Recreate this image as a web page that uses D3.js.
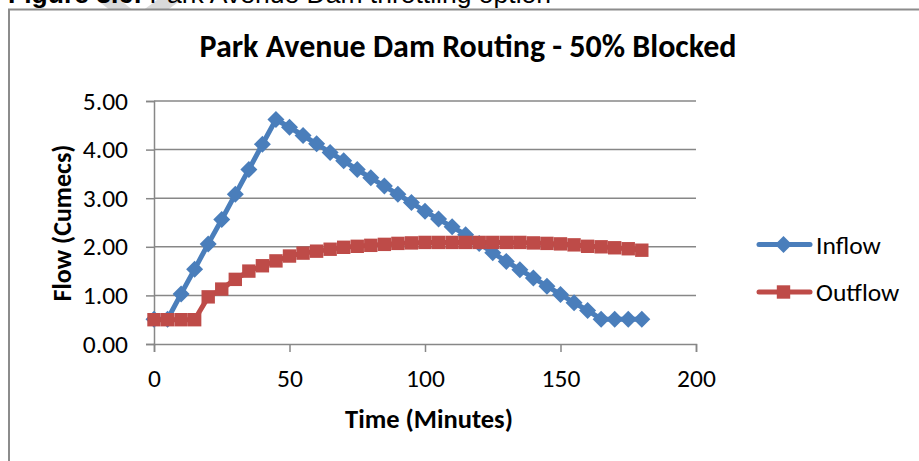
<!DOCTYPE html>
<html>
<head>
<meta charset="utf-8">
<script src="https://cdn.jsdelivr.net/npm/d3@7"></script>
<style>
  body { margin: 0; background: #fff; }
  svg { display: block; }
</style>
</head>
<body>
<div id="chart"></div>
<script>
// Donnees (pas de 5 minutes)
const times = [0,5,10,15,20,25,30,35,40,45,50,55,60,65,70,75,80,85,90,95,100,105,110,115,120,125,130,135,140,145,150,155,160,165,170,175,180];
const inflow = [0.51,0.51,1.03,1.54,2.06,2.56,3.08,3.59,4.11,4.62,4.46,4.29,4.12,3.94,3.77,3.59,3.42,3.25,3.08,2.91,2.73,2.57,2.41,2.25,2.07,1.88,1.70,1.53,1.36,1.19,1.02,0.85,0.69,0.51,0.51,0.51,0.51];
const outflow = [0.50,0.50,0.50,0.50,0.97,1.13,1.33,1.50,1.61,1.71,1.81,1.87,1.91,1.95,1.99,2.01,2.03,2.05,2.07,2.08,2.09,2.09,2.09,2.09,2.09,2.09,2.09,2.09,2.08,2.07,2.06,2.04,2.01,2.00,1.98,1.96,1.93];
const seriesNames = ["Inflow", "Outflow"];
const xTicks = [0, 50, 100, 150, 200];
const yTicks = [0, 1, 2, 3, 4, 5];

const W = 919, H = 461;
const margin = {top: 101, right: 223, bottom: 117, left: 154};
const width = W - margin.left - margin.right;   // 542
const height = H - margin.top - margin.bottom;  // 243
const blue = "#4a7ebb", red = "#be4b48", grid = "#878787";
const font = "Carlito, Calibri, Lato, sans-serif";

const svg = d3.select("#chart").append("svg")
  .attr("width", W).attr("height", H);

// filigrane gris derriere la legende de figure (coupe par le cadre)
svg.append("clipPath").attr("id", "clipTop")
  .append("rect").attr("x", 0).attr("y", 0).attr("width", W).attr("height", 9);
svg.append("polygon")
  .attr("clip-path", "url(#clipTop)")
  .attr("points", "97,0 120,0 138,14 157,0 181,0 138,32")
  .attr("fill", "#d9d9d9");

// legende de figure (coupee en haut)
const cap = svg.append("text")
  .attr("x", 8).attr("y", 3)
  .style("font-family", "Arial, 'Liberation Sans', sans-serif")
  .style("font-size", "26.5px").attr("fill", "#000");
cap.append("tspan").style("font-weight", "bold").text("Figure 3.6:");
cap.append("tspan").text(" Park Avenue Dam throttling option");

// cadre du graphique
svg.append("path")
  .attr("d", `M9,${H} V9.5 H${W}`)
  .attr("fill", "none").attr("stroke", "#8c8c8c").attr("stroke-width", 2);

const g = svg.append("g")
  .attr("transform", `translate(${margin.left},${margin.top})`);

const x = d3.scaleLinear().domain([0, 200]).range([0, width]);
const y = d3.scaleLinear().domain([0, 5]).range([height, 0]);

// grille horizontale
g.append("g").selectAll("line")
  .data(yTicks.filter(d => d > 0))
  .join("line")
  .attr("x1", 0).attr("x2", width)
  .attr("y1", d => y(d)).attr("y2", d => y(d))
  .attr("stroke", grid).attr("stroke-width", 1.5);

// axe Y
const yAxis = g.append("g")
  .call(d3.axisLeft(y).tickValues(yTicks).tickFormat(d3.format(".2f")).tickSize(8).tickPadding(18));
yAxis.select(".domain").attr("stroke", grid).attr("stroke-width", 1.5);
yAxis.selectAll(".tick line").attr("stroke", grid).attr("stroke-width", 1.5);
yAxis.selectAll("text").style("font-family", font).style("font-size", "25.5px").attr("fill", "#000");

// axe X
const xAxis = g.append("g")
  .attr("transform", `translate(0,${height})`)
  .call(d3.axisBottom(x).tickValues(xTicks).tickSize(8).tickPadding(17));
xAxis.select(".domain").attr("stroke", grid).attr("stroke-width", 1.5);
xAxis.selectAll(".tick line").attr("stroke", grid).attr("stroke-width", 1.5);
xAxis.selectAll("text").style("font-family", font).style("font-size", "25.5px").attr("fill", "#000");

// titres
svg.append("text")
  .attr("x", 468).attr("y", 57).attr("text-anchor", "middle")
  .style("font-family", font).style("font-weight", "bold").style("font-size", "32px")
  .text("Park Avenue Dam Routing - 50% Blocked");

svg.append("text")
  .attr("x", 429).attr("y", 428).attr("text-anchor", "middle")
  .style("font-family", font).style("font-weight", "bold").style("font-size", "26.5px")
  .text("Time (Minutes)");

svg.append("text")
  .attr("transform", "translate(71,223) rotate(-90)")
  .attr("text-anchor", "middle")
  .style("font-family", font).style("font-weight", "bold").style("font-size", "26px")
  .text("Flow (Cumecs)");

// series
const line = d3.line().x(d => x(d[0])).y(d => y(d[1]));
const inData = times.map((t, i) => [t, inflow[i]]);
const outData = times.map((t, i) => [t, outflow[i]]);

const diamond = s => `M0,${-s} L${s},0 L0,${s} L${-s},0 Z`;
const square = s => `M${-s},${-s} H${s} V${s} H${-s} Z`;

g.append("path").datum(inData).attr("d", line)
  .attr("fill", "none").attr("stroke", blue).attr("stroke-width", 5).attr("stroke-linejoin", "round");
g.append("g").selectAll("path").data(inData).join("path")
  .attr("transform", d => `translate(${x(d[0])},${y(d[1])})`)
  .attr("d", diamond(8.5)).attr("fill", blue);

g.append("path").datum(outData).attr("d", line)
  .attr("fill", "none").attr("stroke", red).attr("stroke-width", 5).attr("stroke-linejoin", "round");
g.append("g").selectAll("path").data(outData).join("path")
  .attr("transform", d => `translate(${x(d[0])},${y(d[1])})`)
  .attr("d", square(6.7)).attr("fill", red);

// legende
const leg = svg.append("g");
seriesNames.forEach((name, i) => {
  const ly = 244.5 + i * 47.5;
  const c = i === 0 ? blue : red;
  leg.append("line").attr("x1", 759).attr("x2", 810).attr("y1", ly).attr("y2", ly)
    .attr("stroke", c).attr("stroke-width", 5).attr("stroke-linecap", "round");
  leg.append("path").attr("transform", `translate(783.5,${ly})`)
    .attr("d", i === 0 ? diamond(8.5) : square(6.7)).attr("fill", c);
  leg.append("text").attr("x", 816).attr("y", ly + 9)
    .style("font-family", font).style("font-size", "25.5px").text(name);
});
</script>
</body>
</html>
